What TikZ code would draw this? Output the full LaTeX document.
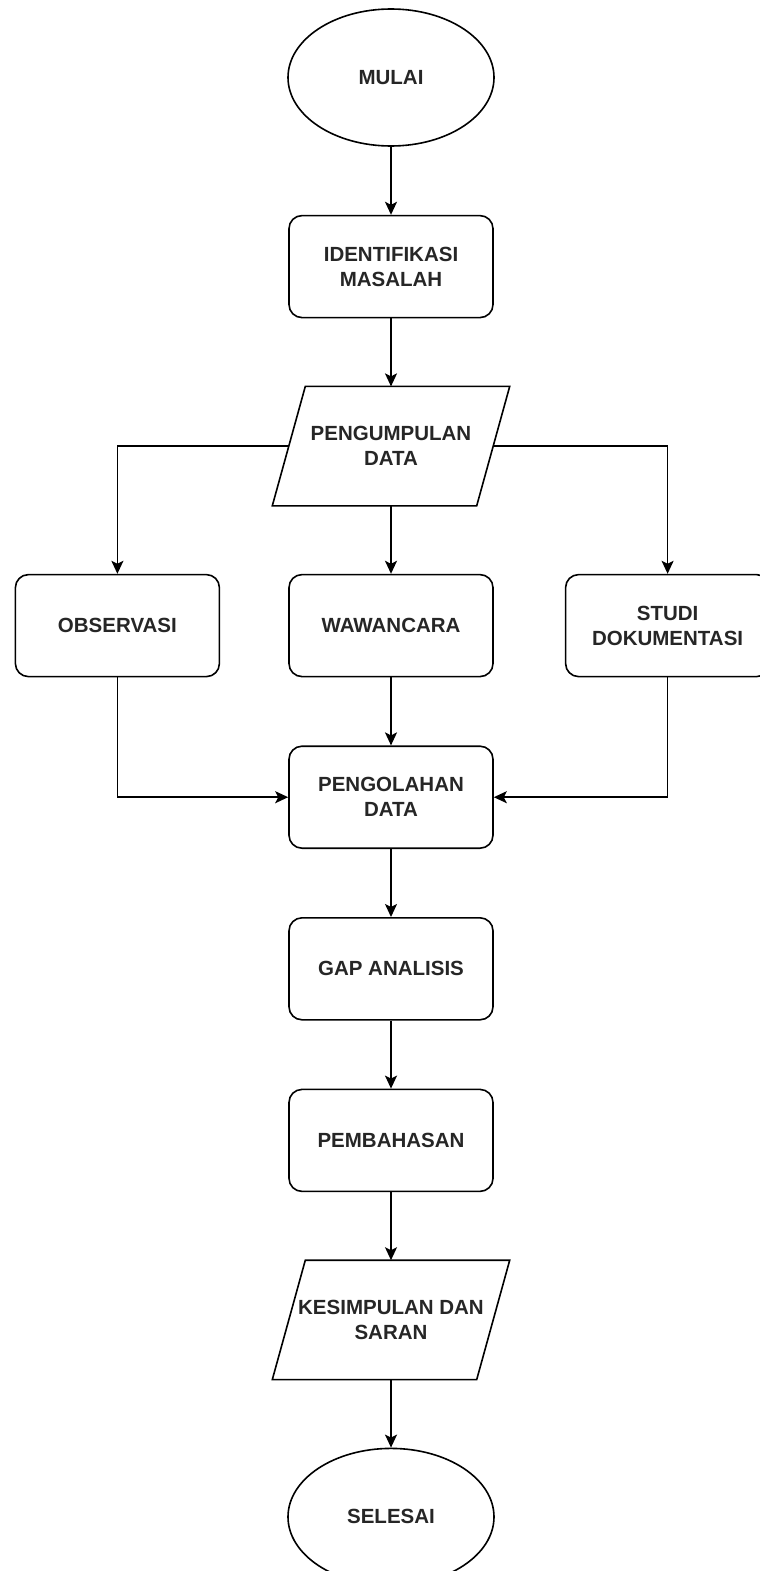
\documentclass[tikz,border=0pt]{standalone}
\usepackage{fontspec}
\setmainfont{Liberation Sans}
\usetikzlibrary{positioning, arrows.meta, shapes.geometric}
\tikzset{
	>={Stealth[length=13pt,width=12pt,inset=3pt]},
	node distance=68pt,
	every node/.style={font=\fontsize{20.5}{25}\selectfont\bfseries, align=center, text=black!85},
	terminal/.style={ellipse, draw, line width=1.6pt, minimum width=206pt, minimum height=137pt, inner sep=0pt},
	process/.style={rectangle, draw, line width=1.6pt, rounded corners=13pt, minimum width=204pt, minimum height=102pt, inner sep=2pt},
	io/.style={rectangle, minimum width=204pt, minimum height=119pt, inner sep=0pt,
		append after command={\pgfextra{\let\ionode\tikzlastnode
			\draw[line width=1.6pt, line join=miter]
			([xshift=16.5pt]\ionode.north west) -- ([xshift=16.5pt]\ionode.north east)
			-- ([xshift=-16.5pt]\ionode.south east) -- ([xshift=-16.5pt]\ionode.south west) -- cycle;}}},
	flow/.style={->, line width=1.7pt}}

\begin{document}
\begin{tikzpicture}
		\useasboundingbox (0pt,0pt) rectangle (760pt,-1571pt);
		%top
		\node[terminal] (mulai) at (391pt,-77.5pt) {MULAI};
		\node[process, below=of mulai] (ident) {IDENTIFIKASI\\MASALAH};
		\node[io, below=of ident] (kumpul) {PENGUMPULAN\\DATA};
		
		%three methods
		\node[process, below=of kumpul] (waw) {WAWANCARA};
		\node[process, left=68pt of waw] (obs) {OBSERVASI};
		\node[process, right=68pt of waw, xshift=3pt] (studi) {STUDI\\DOKUMENTASI};
		
		%bottom
		\node[process, below=of waw] (olah) {PENGOLAHAN\\DATA};
		\node[process, below=of olah] (gap) {GAP ANALISIS};
		\node[process, below=of gap] (bahas) {PEMBAHASAN};
		\node[io, below=of bahas] (simpul) {KESIMPULAN DAN\\SARAN};
		\node[terminal, below=of simpul] (selesai) {SELESAI};
		
		\draw[flow]
		(mulai) edge (ident)
		(ident) edge (kumpul)
		(kumpul) edge (waw)
		(waw) edge (olah)
		(olah) edge (gap)
		(gap) edge (bahas)
		(bahas) edge (simpul)
		(simpul) edge (selesai);
		
		\draw[flow] (kumpul) -| (obs);
		\draw[flow] (kumpul) -| (studi);
		\draw[flow] (obs) |- (olah);
		\draw[flow] (studi) |- (olah);
	\end{tikzpicture}
\end{document}
